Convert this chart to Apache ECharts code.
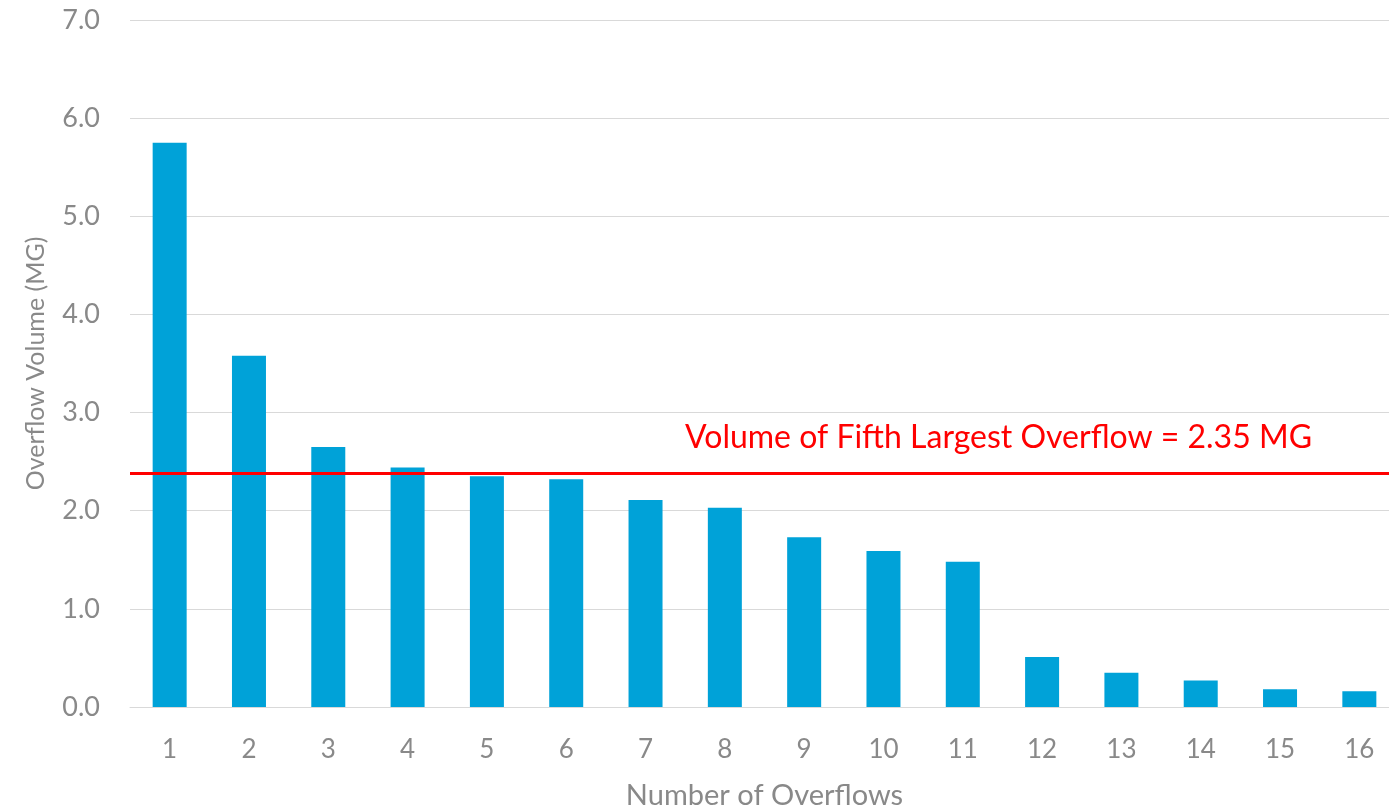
<!DOCTYPE html>
<html>
<head>
<meta charset="utf-8">
<script src="https://cdn.jsdelivr.net/npm/echarts@6/dist/echarts.min.js"></script>
<style>html,body{margin:0;padding:0;background:#fff}#c{width:1389px;height:809px}</style>
</head>
<body>
<div id="c"></div>
<script>
const categories = ['1','2','3','4','5','6','7','8','9','10','11','12','13','14','15','16'];
const overflowVolumes = [5.75, 3.58, 2.65, 2.44, 2.35, 2.32, 2.11, 2.03, 1.73, 1.59, 1.48, 0.51, 0.35, 0.27, 0.18, 0.16];
const fifthLargestLine = 2.38;
const fifthLargestLabel = 'Volume of Fifth Largest Overflow = 2.35 MG';
const yTicks = {min: 0, max: 7, interval: 1};

const FONT = 'Lato';
const GRAY = '#898989';
const chart = echarts.init(document.getElementById('c'));
chart.setOption({
  animation: false,
  grid: {left: 130, width: 1269, top: 20, bottom: 102, containLabel: false, outerBoundsMode: 'none'},
  xAxis: {
    type: 'category', data: categories,
    axisLine: {show: true, lineStyle: {color: '#d9d9d9', width: 1}},
    axisTick: {show: false},
    axisLabel: {color: GRAY, fontSize: 26, fontFamily: FONT, margin: 30},
    name: 'Number of Overflows', nameLocation: 'middle', nameGap: 74,
    nameTextStyle: {color: GRAY, fontSize: 29, fontFamily: FONT}
  },
  yAxis: {
    type: 'value', min: yTicks.min, max: yTicks.max, interval: yTicks.interval,
    axisLine: {show: false}, axisTick: {show: false},
    splitLine: {lineStyle: {color: '#d9d9d9', width: 1}},
    axisLabel: {color: GRAY, fontSize: 27, fontFamily: FONT, margin: 30,
      formatter: v => v.toFixed(1)},
    name: 'Overflow Volume (MG)', nameLocation: 'middle', nameGap: 82,
    nameTextStyle: {color: GRAY, fontSize: 25, fontFamily: FONT}
  },
  series: [{
    type: 'bar', data: overflowVolumes, barWidth: 34,
    itemStyle: {color: '#00a2d8'},
    markLine: {
      symbol: 'none', silent: true,
      lineStyle: {color: '#ff0000', width: 3, type: 'solid'},
      label: {show: false},
      data: [{yAxis: fifthLargestLine}]
    }
  }],
  graphic: [{
    type: 'text', x: 685, y: 438,
    style: {text: fifthLargestLabel, fill: '#ff0000', fontSize: 32, fontFamily: FONT,
      verticalAlign: 'middle', align: 'left'}
  }]
});
</script>
</body>
</html>
